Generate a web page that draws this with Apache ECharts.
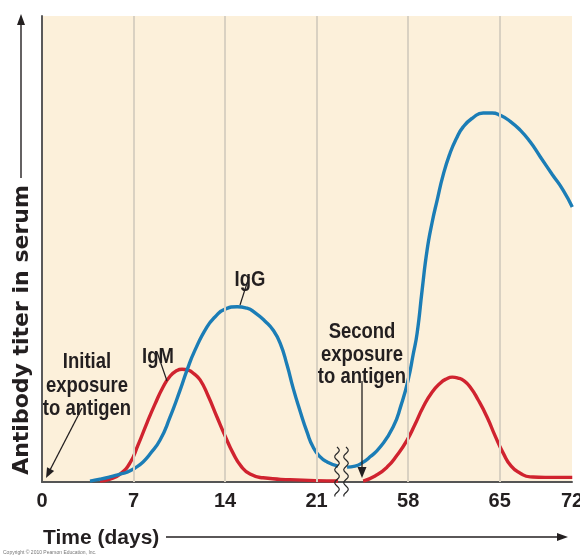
<!DOCTYPE html>
<html>
<head>
<meta charset="utf-8">
<script src="https://cdn.jsdelivr.net/npm/echarts@6/dist/echarts.min.js"></script>
<style>html,body{margin:0;padding:0;background:#fff;}#chart{width:580px;height:558px;}</style>
</head>
<body>
<div id="chart"></div>
<script>
// Tick labels on the broken time axis (days)
const tickLabels = ['0', '7', '14', '21', '58', '65', '72'];
const gridTicks = [1, 2, 3, 4, 5];

// IgM (red) – primary response
const igmPrimaryDays  = [4.44, 5.20, 5.97, 6.73, 7.34, 8.03, 8.64, 9.26, 9.79, 10.25, 10.71, 11.17, 11.63, 12.09, 12.70, 13.39, 14.00, 14.61, 15.22, 15.91, 16.90, 18.97, 22.64];
const igmPrimaryTiter = [0.2, 0.6, 1.7, 4.1, 7.9, 12.7, 16.7, 20.4, 22.7, 23.8, 24.2, 24.0, 23.2, 21.9, 18.5, 13.9, 9.9, 6.2, 3.4, 1.7, 0.9, 0.5, 0.2];
// IgM (red) – secondary response
const igmSecondaryDays  = [54.56, 55.47, 56.39, 57.16, 57.92, 58.53, 59.15, 59.84, 60.45, 60.91, 61.37, 61.83, 62.28, 62.74, 63.36, 64.04, 64.65, 65.27, 65.88, 66.57, 67.33, 68.48, 70.55];
const igmSecondaryTiter = [0.2, 1.3, 3.2, 5.8, 9.0, 12.4, 16.1, 19.3, 21.2, 22.1, 22.5, 22.3, 21.7, 20.4, 17.6, 13.9, 9.9, 6.2, 3.4, 1.9, 1.1, 1.0, 1.0];

// IgG (blue) – primary response
const iggPrimaryDays  = [3.67, 4.44, 5.20, 5.97, 6.50, 7.11, 7.73, 8.26, 9.03, 9.79, 10.56, 11.09, 11.70, 12.62, 13.23, 14.00, 14.92, 15.68, 16.30, 17.06, 17.67, 18.21, 18.74, 19.20, 19.74, 20.27, 20.73, 21.27, 21.80, 22.64];
const iggPrimaryTiter = [0.2, 0.6, 1.1, 1.7, 2.1, 3.0, 4.3, 6.0, 9.0, 13.9, 19.7, 24.0, 28.3, 33.3, 35.4, 37.1, 37.6, 37.3, 36.3, 34.5, 32.6, 29.8, 25.1, 20.2, 15.2, 10.7, 7.5, 5.4, 4.3, 3.4];
// IgG (blue) – secondary response
const iggSecondaryDays  = [53.33, 53.94, 54.48, 55.09, 55.86, 56.85, 57.46, 58.00, 58.38, 58.69, 59.07, 59.45, 59.84, 60.22, 60.68, 61.21, 61.67, 62.21, 62.97, 63.74, 64.43, 65.04, 65.80, 66.57, 67.33, 68.10, 69.02, 69.86, 70.55];
const iggSecondaryTiter = [3.2, 3.4, 4.1, 5.4, 7.5, 11.8, 16.5, 21.9, 27.3, 32.0, 41.2, 49.8, 55.8, 60.5, 65.9, 70.6, 73.6, 76.2, 78.2, 79.2, 79.2, 78.7, 77.4, 75.5, 73.0, 69.8, 66.0, 62.6, 59.0];

// broken axis: days 0–~23 and ~53–72 share one axis (offset of 30 days)
function dayToPos(d) { return d < 40 ? d / 7 : (d - 30) / 7; }
function pairs(days, vals) { return days.map((d, i) => [dayToPos(d), vals[i]]); }

const RED = '#d0232f', BLUE = '#1b7db6', INK = '#231f20';

const chart = echarts.init(document.getElementById('chart'));

function arrowHead(x1, y1, x2, y2, len, half) {
  const dx = x2 - x1, dy = y2 - y1, L = Math.hypot(dx, dy);
  const ux = dx / L, uy = dy / L;
  const bx = x2 - ux * len, by = y2 - uy * len;
  return {
    type: 'polygon',
    shape: { points: [[x2, y2], [bx - uy * half, by + ux * half], [bx + uy * half, by - ux * half]] },
    style: { fill: INK }, z: 100
  };
}
function seg(x1, y1, x2, y2, w) {
  return { type: 'line', shape: { x1, y1, x2, y2 }, style: { stroke: INK, lineWidth: w || 1.3 }, z: 100 };
}
// condensed-looking annotation text (horizontal squeeze)
function txt(text, x, y) {
  return { type: 'text', x, y, scaleX: 0.84,
    style: { text, font: 'bold 22px "Liberation Sans", Arial, sans-serif', fill: INK, align: 'center', verticalAlign: 'alphabetic' }, z: 100 };
}
function wavy(x0) {
  const pts = [];
  for (let y = 447; y <= 497; y += 1.5) pts.push([x0 + 2.3 * Math.sin((y - 447) / 13 * 2 * Math.PI), y]);
  return { type: 'polyline', shape: { points: pts }, style: { stroke: '#2a2a2a', lineWidth: 1.2, fill: null }, z: 100 };
}

const graphics = [
  // y-axis title with arrow
  { type: 'text', x: 22, y: 330, rotation: Math.PI / 2,
    style: { text: 'Antibody titer in serum', font: 'bold 22px "DejaVu Sans", sans-serif', fill: INK, align: 'center', verticalAlign: 'middle' }, z: 100 },
  seg(21, 178, 21, 24, 1.4),
  arrowHead(21, 40, 21, 14, 11, 4),
  // x-axis title with arrow
  { type: 'text', x: 43, y: 538, style: { text: 'Time (days)', font: 'bold 21px "Liberation Sans", Arial, sans-serif', fill: INK, align: 'left', verticalAlign: 'middle' }, z: 100 },
  seg(166, 537, 558, 537, 1.4),
  arrowHead(540, 537, 568, 537, 11, 4),
  // Initial exposure annotation
  txt('Initial', 87, 351),
  txt('exposure', 87, 375),
  txt('to antigen', 87, 398),
  seg(82, 408, 50, 470, 1.3),
  arrowHead(82, 408, 46, 478, 10, 4),
  // IgM / IgG labels
  txt('IgM', 158, 346),
  seg(157, 352, 167, 381, 1.2),
  txt('IgG', 250, 269),
  seg(249, 277, 240, 305, 1.2),
  // Second exposure annotation
  txt('Second', 362, 321),
  txt('exposure', 362, 344),
  txt('to antigen', 362, 366),
  seg(362, 381, 362, 468, 1.3),
  arrowHead(362, 381, 362, 478, 11, 4.5),
  // axis break marks
  wavy(337),
  wavy(346),
  // copyright line
  { type: 'text', x: 3, y: 553, style: { text: 'Copyright © 2010 Pearson Education, Inc.', font: '5px "Liberation Sans", Arial, sans-serif', fill: '#777', align: 'left', verticalAlign: 'middle' }, z: 100 }
];

const lineStyle = (c) => ({ color: c, width: 3.4 });
const SM = 0.55;

chart.setOption({
  animation: false,
  backgroundColor: '#ffffff',
  grid: { left: 42, right: 8, top: 16, bottom: 76, show: true, backgroundColor: '#fcf0da', borderWidth: 0,
          containLabel: false, outerBoundsMode: 'none' },
  xAxis: {
    type: 'value', min: 0, max: 5.79, interval: 1,
    axisLine: { show: true, lineStyle: { color: '#555', width: 2 } },
    axisTick: { show: false },
    splitLine: { show: false },
    axisLabel: {
      margin: 9, color: INK, fontFamily: '"Liberation Sans", Arial, sans-serif', fontWeight: 'bold', fontSize: 20,
      showMaxLabel: true, showMinLabel: true, hideOverlap: false,
      formatter: (v) => v > 5.5 ? tickLabels[6] : tickLabels[Math.round(v)]
    }
  },
  yAxis: {
    type: 'value', min: 0, max: 100,
    axisLine: { show: true, lineStyle: { color: '#5a5a5a', width: 2 } },
    axisTick: { show: false }, axisLabel: { show: false }, splitLine: { show: false }
  },
  series: [
    { type: 'line', data: [], z: 1, silent: true,
      markLine: { silent: true, symbol: 'none', label: { show: false },
        lineStyle: { color: '#d9d1c2', width: 2, type: 'solid' },
        data: gridTicks.map(t => ({ xAxis: t })) } },
    { type: 'line', data: pairs(igmPrimaryDays, igmPrimaryTiter), smooth: SM, showSymbol: false, lineStyle: lineStyle(RED), z: 3 },
    { type: 'line', data: pairs(igmSecondaryDays, igmSecondaryTiter), smooth: SM, showSymbol: false, lineStyle: lineStyle(RED), z: 3 },
    { type: 'line', data: pairs(iggPrimaryDays, iggPrimaryTiter), smooth: SM, showSymbol: false, lineStyle: lineStyle(BLUE), z: 4 },
    { type: 'line', data: pairs(iggSecondaryDays, iggSecondaryTiter), smooth: SM, showSymbol: false, lineStyle: lineStyle(BLUE), z: 4 }
  ],
  graphic: graphics
});
</script>
</body>
</html>
